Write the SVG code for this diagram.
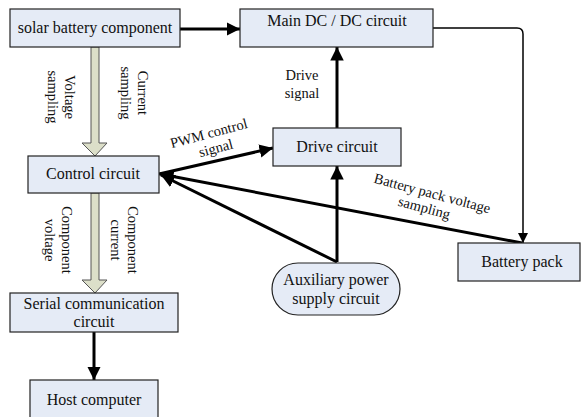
<svg xmlns="http://www.w3.org/2000/svg" width="581" height="417" viewBox="0 0 581 417">
<defs>
<style>
.box{fill:#e5ebf6;stroke:#222;stroke-width:1.2}
.t{font-size:16px;fill:#111;text-anchor:middle}
.s{font-size:14.5px;fill:#111;text-anchor:middle}
.thick{stroke:#000;stroke-width:3;fill:none}
.thin{stroke:#000;stroke-width:1.5;fill:none}
.hollow{fill:#dcdfc9;stroke:#555;stroke-width:1}
</style>
<marker id="ah" viewBox="0 0 10 10" refX="10" refY="5" markerWidth="4.5" markerHeight="4.5" markerUnits="strokeWidth" orient="auto">
<path d="M0,0 L10,5 L0,10 z" fill="#000"/>
</marker>
<marker id="ahs" viewBox="0 0 10 10" refX="10" refY="5" markerWidth="7" markerHeight="7" markerUnits="strokeWidth" orient="auto">
<path d="M0,0 L10,5 L0,10 z" fill="#000"/>
</marker>
</defs>
<g id="connectors">
<line class="thick" x1="180" y1="29" x2="240" y2="29" marker-end="url(#ah)"/>
<path class="thin" d="M433,28 H517 Q523,28 523,34 V243" marker-end="url(#ahs)"/>
<line class="thick" x1="337" y1="128" x2="337" y2="47" marker-end="url(#ah)"/>
<line class="thick" x1="159" y1="174" x2="273" y2="148" marker-end="url(#ah)"/>
<line class="thick" x1="522" y1="243" x2="160" y2="174" marker-end="url(#ah)"/>
<line class="thick" x1="337" y1="262" x2="161" y2="175" marker-end="url(#ah)"/>
<line class="thick" x1="337" y1="262" x2="337" y2="166" marker-end="url(#ah)"/>
<line class="thick" x1="94" y1="332" x2="94" y2="380" marker-end="url(#ah)"/>
<path class="hollow" d="M91,47 H99 V143 H107 L95,156 L82,143 H91 Z"/>
<path class="hollow" d="M91,193 H99 V280 H107 L95,293 L82,280 H91 Z"/>
<g class="s" font-family="Liberation Serif, Times New Roman, Times, DejaVu Serif, Noto Serif, serif">
<text transform="translate(61,97) rotate(90)"><tspan x="0" y="-4">Voltage</tspan><tspan x="0" y="13">sampling</tspan></text>
<text transform="translate(134,93) rotate(90)"><tspan x="0" y="-4">Current</tspan><tspan x="0" y="13">sampling</tspan></text>
<text transform="translate(58,240) rotate(90)"><tspan x="0" y="-4">Component</tspan><tspan x="0" y="13">voltage</tspan></text>
<text transform="translate(124,240) rotate(90)"><tspan x="0" y="-4">Component</tspan><tspan x="0" y="13">current</tspan></text>
<text x="302" y="80">Drive</text>
<text x="302" y="98">signal</text>
<text transform="translate(210,138) rotate(-15)"><tspan x="0" y="0">PWM control</tspan><tspan x="3" y="16">signal</tspan></text>
<text transform="translate(431,198) rotate(15)"><tspan x="0" y="0">Battery pack voltage</tspan><tspan x="-4" y="16">sampling</tspan></text>
</g>
</g>
<g font-family="Liberation Serif, Times New Roman, Times, DejaVu Serif, Noto Serif, serif">
<g id="solar">
<rect class="box" x="10" y="9" width="170" height="38"/>
<text class="t" x="95" y="33">solar battery component</text>
</g>
<g id="maindcdc">
<rect class="box" x="240" y="9" width="193" height="38"/>
<text class="t" x="337" y="26">Main DC / DC circuit</text>
</g>
<g id="drive">
<rect class="box" x="273" y="128" width="128" height="38"/>
<text class="t" x="337" y="152">Drive circuit</text>
</g>
<g id="control">
<rect class="box" x="28" y="156" width="131" height="37"/>
<text class="t" x="93" y="179">Control circuit</text>
</g>
<g id="battery">
<rect class="box" x="458" y="243" width="122" height="38"/>
<text class="t" x="522" y="267">Battery pack</text>
</g>
<g id="auxiliary">
<rect class="box" x="272" y="263" width="128" height="52" rx="26" ry="26"/>
<text class="t" x="336" y="285">Auxiliary power</text>
<text class="t" x="336" y="304">supply circuit</text>
</g>
<g id="serial">
<rect class="box" x="10" y="293" width="168" height="39"/>
<text class="t" x="94" y="309">Serial communication</text>
<text class="t" x="94" y="327">circuit</text>
</g>
<g id="host">
<rect class="box" x="30" y="380" width="128" height="45"/>
<text class="t" x="94" y="405">Host computer</text>
</g>
</g>
</svg>
